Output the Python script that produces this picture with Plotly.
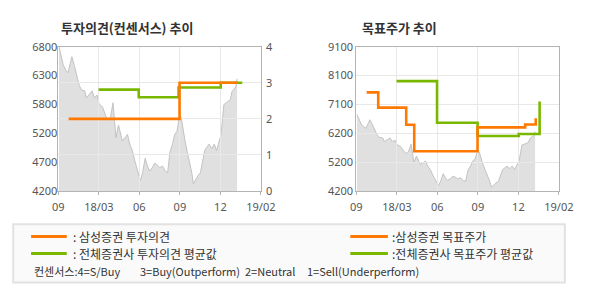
import plotly.graph_objects as go

# ---------------- data ----------------
# x positions are trading-day index along the common time axis (0..630)
tick_pos = [0, 126, 252, 378, 504, 630]
tick_labels = ["09", "18/03", "06", "09", "12", "19/02"]

price_x = [2, 7, 15, 22, 30, 37, 42, 49, 57, 65, 72, 82, 87, 97, 105, 112, 120, 127,
           137, 147, 155, 162, 170, 175, 179, 187, 192, 199, 207, 215, 222, 230, 237,
           242, 249, 255, 262, 270, 277, 284, 292, 299, 307, 315, 324, 332, 340, 347,
           355, 362, 369, 377, 382, 387, 394, 402, 409, 415, 420, 427, 434, 442, 449,
           455, 462, 469, 477, 485, 492, 499, 505, 509, 515, 522, 529, 535, 540, 547,
           552, 556]
price = [6800, 6650, 6475, 6390, 6330, 6500, 6620, 6475, 6275, 6100, 6020, 6005, 5875,
         5960, 6005, 5875, 5930, 5760, 5720, 5560, 5475, 5530, 5790, 5450, 5160, 5390,
         5250, 5100, 5160, 5220, 5045, 4930, 4760, 4650, 4530, 4390, 4530, 4790, 4650,
         4560, 4620, 4700, 4675, 4620, 4650, 4560, 4530, 4900, 5045, 5220, 5275, 5560,
         5530, 5330, 5100, 4875, 4700, 4530, 4330, 4415, 4475, 4530, 4760, 4930, 4990,
         5045, 4960, 5045, 4930, 5100, 5190, 5390, 5760, 5790, 5815, 5845, 5990, 6030,
         6075, 6220]

# 투자의견 (0-4 scale)
op_sam_x = [32, 377, 557]
op_sam = [2.0, 3.0, 3.0]
op_all_x = [125, 250, 374, 505, 572]
op_all = [2.81, 2.60, 2.87, 3.0, 3.0]

# 목표주가
tp_sam_x = [32, 68, 155, 180, 377, 525, 558]
tp_sam = [7550, 7030, 6450, 5550, 6360, 6460, 6670]
tp_all_x = [125, 251, 377, 505, 570]
tp_all = [7930, 6520, 6070, 6135, 7240]

left_vals = [4200, 4720, 5240, 5760, 6280, 6800]
left_labels = ["4200", "4700", "5200", "5800", "6300", "6800"]
right_vals = [0, 1, 2, 3, 4]
tp_vals = [4200, 5180, 6160, 7140, 8120, 9100]
tp_labels = ["4200", "5200", "6200", "7100", "8100", "9100"]

ORANGE = "#ff7800"
GREEN = "#7ab800"
AREA = "#e0e0e0"
AREA_LINE = "#c2c2c2"
GRID = "#e8e8e8"
AXIS = "#b4b4b4"
TXT = "#555555"
FONT = "Noto Sans"
KFONT = "Noto Sans CJK KR"

W, H = 590, 300
LX = [54.3 / W, 264.3 / W]
RX = [363.3 / W, 573.3 / W]
YD = [107.3 / H, 259.3 / H]

fig = go.Figure()

# price area (left) and (right)
for xa, ya in (("x", "y"), ("x3", "y3")):
    fig.add_trace(go.Scatter(x=price_x, y=price, xaxis=xa, yaxis=ya, mode="lines",
                             line=dict(color=AREA_LINE, width=1), fill="tozeroy",
                             fillcolor=AREA, hoverinfo="skip", showlegend=False))

# opinion lines
fig.add_trace(go.Scatter(x=op_all_x, y=op_all, xaxis="x2", yaxis="y2", mode="lines",
                         line=dict(color=GREEN, width=2.6, shape="hv"), showlegend=False))
fig.add_trace(go.Scatter(x=op_sam_x, y=op_sam, xaxis="x2", yaxis="y2", mode="lines",
                         line=dict(color=ORANGE, width=2.6, shape="hv"), showlegend=False))
# target price lines
fig.add_trace(go.Scatter(x=tp_all_x, y=tp_all, xaxis="x4", yaxis="y4", mode="lines",
                         line=dict(color=GREEN, width=2.6, shape="hv"), showlegend=False))
fig.add_trace(go.Scatter(x=tp_sam_x, y=tp_sam, xaxis="x4", yaxis="y4", mode="lines",
                         line=dict(color=ORANGE, width=2.6, shape="hv"), showlegend=False))

tickfont = dict(family=FONT, size=11, color=TXT)
hidden_x = dict(range=[0, 630], showgrid=False, showticklabels=False, showline=False,
                zeroline=False, ticks="", fixedrange=True)
grid_x = dict(range=[0, 630], tickvals=tick_pos, ticktext=tick_labels, showgrid=True,
              gridcolor=GRID, gridwidth=1, showline=True, linecolor=AXIS, linewidth=1,
              mirror=True, ticks="outside", ticklen=3, tickcolor=AXIS, zeroline=False,
              ticklabelstandoff=3, tickfont=tickfont, fixedrange=True)

fig.update_layout(
    width=W, height=H, margin=dict(l=0, r=0, t=0, b=0),
    paper_bgcolor="white", plot_bgcolor="rgba(0,0,0,0)",
    showlegend=False,
    xaxis=dict(domain=LX, anchor="y", **hidden_x),
    yaxis=dict(domain=YD, anchor="x", range=[4200, 6800], tickvals=left_vals,
               ticktext=left_labels, showgrid=False, showline=False, zeroline=False,
               ticks="", tickfont=tickfont, fixedrange=True),
    xaxis2=dict(domain=LX, anchor="y2", **grid_x),
    yaxis2=dict(domain=YD, anchor="x2", side="right", range=[0, 4], tickvals=right_vals,
                showgrid=True, gridcolor=GRID, showline=True, linecolor=AXIS, mirror=True,
                zeroline=False, ticks="", ticklabelstandoff=2, tickfont=tickfont,
                fixedrange=True),
    xaxis3=dict(domain=RX, anchor="y3", **hidden_x),
    yaxis3=dict(domain=YD, anchor="x3", range=[4200, 9100], showgrid=False,
                showticklabels=False, showline=False, zeroline=False, ticks="",
                fixedrange=True),
    xaxis4=dict(domain=RX, anchor="y4", **grid_x),
    yaxis4=dict(domain=YD, anchor="x4", range=[4200, 9100], tickvals=tp_vals,
                ticktext=tp_labels, showgrid=True, gridcolor=GRID, showline=True,
                linecolor=AXIS, mirror=True, zeroline=False, ticks="",
                tickfont=tickfont, fixedrange=True),
)

# titles
title_font = dict(family=KFONT, size=13, color="#333333")
fig.add_annotation(text="<b>투자의견(컨센서스) 추이</b>", x=55 / W, y=1 - 21 / H,
                   xref="paper", yref="paper", xanchor="left", yanchor="middle",
                   showarrow=False, font=title_font)
fig.add_annotation(text="<b>목표주가 추이</b>", x=367 / W, y=1 - 21 / H,
                   xref="paper", yref="paper", xanchor="left", yanchor="middle",
                   showarrow=False, font=title_font)

# legend box
fig.add_shape(type="rect", xref="paper", yref="paper", x0=7.5 / W, x1=579.5 / W,
              y0=1 - 289 / H, y1=1 - 227.5 / H, fillcolor="#fafafa",
              line=dict(color="#e2e2e2", width=2), layer="below")

leg_font = dict(family=KFONT, size=12, color="#333333")
legend_items = [
    (26, 63, 67.5, 240.5, ORANGE, ": 삼성증권 투자의견"),
    (26, 63, 67.5, 258.5, GREEN, ": 전체증권사 투자의견 평균값"),
    (357, 396, 398.5, 240.5, ORANGE, ":삼성증권 목표주가"),
    (357, 396, 398.5, 258.5, GREEN, ":전체증권사 목표주가 평균값"),
]
for x0, x1, tx, yy, col, label in legend_items:
    fig.add_shape(type="line", xref="paper", yref="paper", x0=x0 / W, x1=x1 / W,
                  y0=1 - yy / H, y1=1 - yy / H, line=dict(color=col, width=3))
    fig.add_annotation(text=label, x=tx / W, y=1 - yy / H, xref="paper", yref="paper",
                       xanchor="left", yanchor="middle", showarrow=False, font=leg_font)

note_font = dict(family=KFONT, size=11, color="#333333")
notes = [(26.5, "컨센서스:4=S/Buy"), (136.5, "3=Buy(Outperform)"),
         (246, "2=Neutral"), (310.5, "1=Sell(Underperform)")]
for tx, label in notes:
    fig.add_annotation(text=label, x=tx / W, y=1 - 277 / H, xref="paper", yref="paper",
                       xanchor="left", yanchor="middle", showarrow=False, font=note_font)

fig.write_html("out.html")
